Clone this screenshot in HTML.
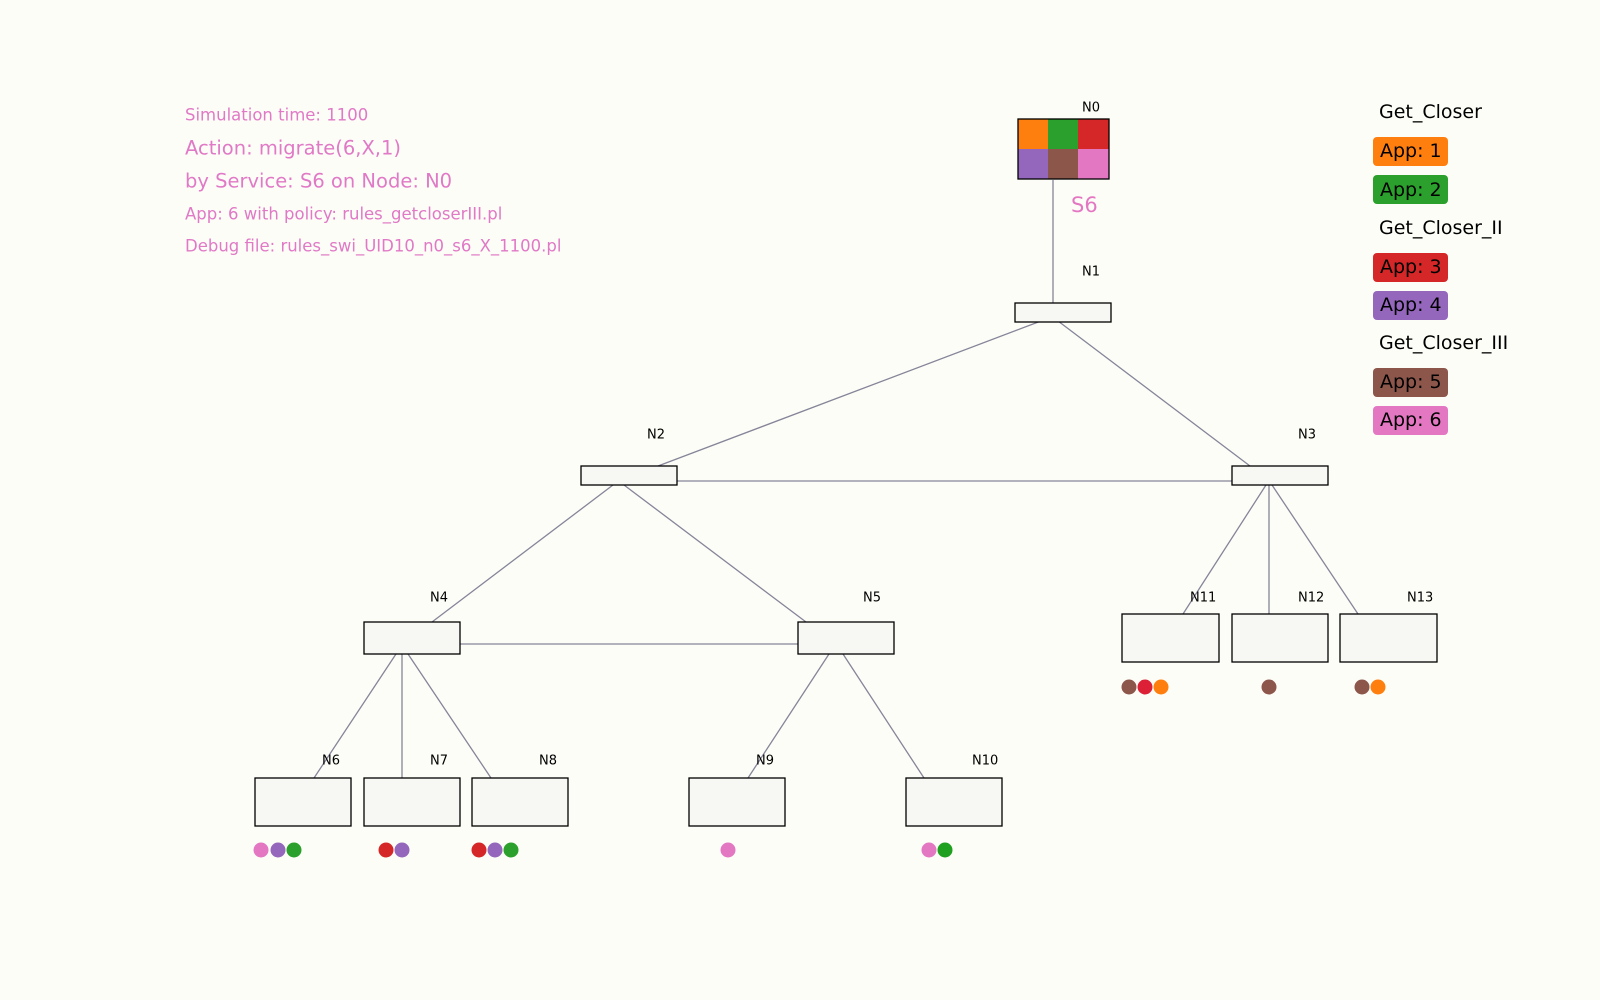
<!DOCTYPE html>
<html><head><meta charset="utf-8"><style>
html,body{margin:0;padding:0;background:#fdfdf7;}
svg{display:block;}
text{font-family:"DejaVu Sans","Liberation Sans",sans-serif;}
</style></head><body>
<svg width="1600" height="1000" viewBox="0 0 1600 1000" xmlns="http://www.w3.org/2000/svg">
<rect width="1600" height="1000" fill="#fdfdf7"/>
<g stroke="#85859a" stroke-width="1.3" fill="none">
<line x1="1053" y1="180" x2="1053" y2="303"/>
<line x1="1041" y1="321" x2="658" y2="466"/>
<line x1="1058" y1="321" x2="1250" y2="466"/>
<line x1="677" y1="481" x2="1232" y2="481"/>
<line x1="613" y1="485" x2="432" y2="622"/>
<line x1="624" y1="485" x2="806" y2="622"/>
<line x1="460" y1="644" x2="798" y2="644"/>
<line x1="396" y1="654" x2="314" y2="778"/>
<line x1="402" y1="654" x2="402" y2="778"/>
<line x1="408" y1="654" x2="491" y2="778"/>
<line x1="829" y1="654" x2="748" y2="778"/>
<line x1="843" y1="654" x2="924" y2="778"/>
<line x1="1266" y1="485" x2="1183" y2="614"/>
<line x1="1269" y1="485" x2="1269" y2="614"/>
<line x1="1272" y1="485" x2="1358" y2="614"/>
</g>
<g>
<rect x="1018" y="119" width="30" height="30" fill="#ff7f0e"/>
<rect x="1048" y="119" width="30" height="30" fill="#2ca02c"/>
<rect x="1078" y="119" width="31" height="30" fill="#d62728"/>
<rect x="1018" y="149" width="30" height="30" fill="#9467bd"/>
<rect x="1048" y="149" width="30" height="30" fill="#8c564b"/>
<rect x="1078" y="149" width="31" height="30" fill="#e377c2"/>
<rect x="1018" y="119" width="91" height="60" fill="none" stroke="#000" stroke-width="1.3"/>
</g>
<g fill="#f7f7f3" stroke="#000" stroke-width="1.3">
<rect x="1015" y="303" width="96" height="19"/>
<rect x="581" y="466" width="96" height="19"/>
<rect x="1232" y="466" width="96" height="19"/>
<rect x="364" y="622" width="96" height="32"/>
<rect x="798" y="622" width="96" height="32"/>
<rect x="1122" y="614" width="97" height="48"/>
<rect x="1232" y="614" width="96" height="48"/>
<rect x="1340" y="614" width="97" height="48"/>
<rect x="255" y="778" width="96" height="48"/>
<rect x="364" y="778" width="96" height="48"/>
<rect x="472" y="778" width="96" height="48"/>
<rect x="689" y="778" width="96" height="48"/>
<rect x="906" y="778" width="96" height="48"/>
</g>
<g font-size="13" fill="#000" dominant-baseline="central">
<text x="1082" y="108">N0</text>
<text x="1082" y="272">N1</text>
<text x="647" y="435">N2</text>
<text x="1298" y="435">N3</text>
<text x="430" y="598">N4</text>
<text x="863" y="598">N5</text>
<text x="1190" y="598">N11</text>
<text x="1298" y="598">N12</text>
<text x="1407" y="598">N13</text>
<text x="322" y="761">N6</text>
<text x="430" y="761">N7</text>
<text x="539" y="761">N8</text>
<text x="756" y="761">N9</text>
<text x="972" y="761">N10</text>
</g>
<text x="1071" y="205" font-size="21" fill="#e377c2" dominant-baseline="central">S6</text>
<g fill="#e079c6" dominant-baseline="central">
<text x="185" y="115" font-size="16.5">Simulation time: 1100</text>
<text x="185" y="148" font-size="19.5">Action: migrate(6,X,1)</text>
<text x="185" y="181" font-size="19.5">by Service: S6 on Node: N0</text>
<text x="185" y="214" font-size="16.5">App: 6 with policy: rules_getcloserIII.pl</text>
<text x="185" y="246" font-size="16.5">Debug file: rules_swi_UID10_n0_s6_X_1100.pl</text>
</g>
<g>
<circle cx="261" cy="850" r="7.5" fill="#e377c2"/><circle cx="278" cy="850" r="7.5" fill="#9467bd"/><circle cx="294" cy="850" r="7.5" fill="#2ca02c"/>
<circle cx="386" cy="850" r="7.5" fill="#d62728"/><circle cx="402" cy="850" r="7.5" fill="#9467bd"/>
<circle cx="479" cy="850" r="7.5" fill="#d62728"/><circle cx="495" cy="850" r="7.5" fill="#9467bd"/><circle cx="511" cy="850" r="7.5" fill="#2ca02c"/>
<circle cx="728" cy="850" r="7.5" fill="#e377c2"/>
<circle cx="929" cy="850" r="7.5" fill="#e377c2"/><circle cx="945" cy="850" r="7.5" fill="#1fa01f"/>
<circle cx="1129" cy="687" r="7.5" fill="#8c564b"/><circle cx="1145" cy="687" r="7.5" fill="#dc2035"/><circle cx="1161" cy="687" r="7.5" fill="#ff7f0e"/>
<circle cx="1269" cy="687" r="7.5" fill="#8c564b"/>
<circle cx="1362" cy="687" r="7.5" fill="#8c564b"/><circle cx="1378" cy="687" r="7.5" fill="#ff7f0e"/>
</g>
<g font-size="19" fill="#000" dominant-baseline="central">
<text x="1379" y="112">Get_Closer</text>
<rect x="1373" y="137" width="75" height="29" rx="4" fill="#ff7f0e"/><text x="1380" y="151">App: 1</text>
<rect x="1373" y="175" width="75" height="29" rx="4" fill="#2ca02c"/><text x="1380" y="190">App: 2</text>
<text x="1379" y="228">Get_Closer_II</text>
<rect x="1373" y="253" width="75" height="29" rx="4" fill="#d62728"/><text x="1380" y="267">App: 3</text>
<rect x="1373" y="291" width="75" height="29" rx="4" fill="#9467bd"/><text x="1380" y="305">App: 4</text>
<text x="1379" y="343">Get_Closer_III</text>
<rect x="1373" y="368" width="75" height="29" rx="4" fill="#8c564b"/><text x="1380" y="382">App: 5</text>
<rect x="1373" y="406" width="75" height="29" rx="4" fill="#e377c2"/><text x="1380" y="420">App: 6</text>
</g>
</svg>
</body></html>
